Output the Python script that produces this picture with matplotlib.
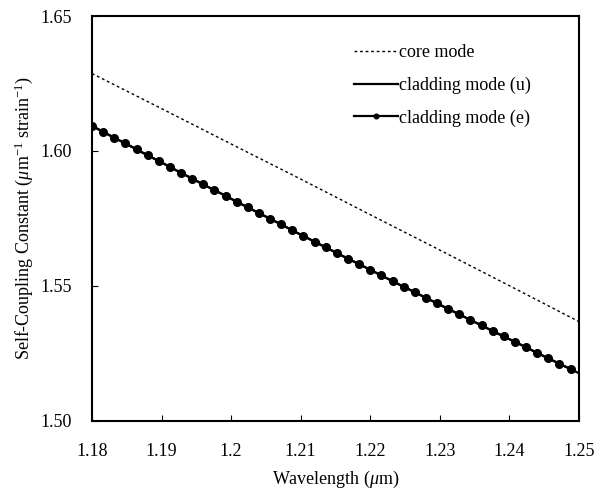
import matplotlib
matplotlib.use("Agg")
import matplotlib.pyplot as plt

plt.rcParams["font.family"] = ["Liberation Serif", "DejaVu Serif"]
plt.rcParams["mathtext.fontset"] = "custom"
plt.rcParams["mathtext.it"] = "Liberation Serif:italic"
plt.rcParams["mathtext.rm"] = "Liberation Serif"

# core mode, sampled every 0.01 um
core_wl = [1.18, 1.19, 1.20, 1.21, 1.22, 1.23, 1.24, 1.25]
core_k = [1.6287, 1.6157, 1.6026, 1.5896, 1.5764, 1.5633, 1.5501, 1.5368]

# cladding mode, sampled every 0.0016 um
clad_wl = [1.1800, 1.1816, 1.1832, 1.1848, 1.1864, 1.1880, 1.1896, 1.1912,
           1.1928, 1.1944, 1.1960, 1.1976, 1.1992, 1.2008, 1.2024, 1.2040,
           1.2056, 1.2072, 1.2088, 1.2104, 1.2120, 1.2136, 1.2152, 1.2168,
           1.2184, 1.2200, 1.2216, 1.2232, 1.2248, 1.2264, 1.2280, 1.2296,
           1.2312, 1.2328, 1.2344, 1.2360, 1.2376, 1.2392, 1.2408, 1.2424,
           1.2440, 1.2456, 1.2472, 1.2488]
clad_k = [1.6093, 1.6071, 1.6049, 1.6028, 1.6006, 1.5984, 1.5963, 1.5941,
          1.5919, 1.5898, 1.5876, 1.5855, 1.5834, 1.5812, 1.5791, 1.5770,
          1.5749, 1.5728, 1.5706, 1.5685, 1.5664, 1.5643, 1.5622, 1.5601,
          1.5581, 1.5560, 1.5539, 1.5518, 1.5497, 1.5477, 1.5456, 1.5436,
          1.5415, 1.5395, 1.5374, 1.5354, 1.5333, 1.5313, 1.5293, 1.5273,
          1.5252, 1.5232, 1.5212, 1.5192]
clad_u_wl = clad_wl + [1.25]
clad_u_k = clad_k + [1.5177]

x_ticks = [1.18, 1.19, 1.20, 1.21, 1.22, 1.23, 1.24, 1.25]
x_labels = ["1.18", "1.19", "1.2", "1.21", "1.22", "1.23", "1.24", "1.25"]
y_ticks = [1.50, 1.55, 1.60, 1.65]
y_labels = ["1.50", "1.55", "1.60", "1.65"]

fig = plt.figure(figsize=(5.97, 4.91), dpi=100)
ax = fig.add_axes([0.1541, 0.1426, 0.8157, 0.8248])

ax.plot(core_wl, core_k, color="black", lw=1.0, ls=(0, (2, 2)), label="core mode")
ax.plot(clad_u_wl, clad_u_k, color="black", lw=1.6, label="cladding mode (u)")
ax.plot(clad_wl, clad_k, color="black", lw=1.6, marker="o", markersize=5.5,
        label="cladding mode (e)")

ax.set_xlim(1.18, 1.25)
ax.set_ylim(1.50, 1.65)
ax.set_xticks(x_ticks)
ax.set_xticklabels(x_labels)
ax.set_yticks(y_ticks)
ax.set_yticklabels(y_labels)
ax.tick_params(direction="in", length=4, width=0.8, labelsize=13)
ax.tick_params(axis="x", pad=15.5)
ax.tick_params(axis="y", pad=14.5)
for s in ax.spines.values():
    s.set_linewidth(1.5)

ax.set_xlabel(r"Wavelength ($\mu$m)", fontsize=13, labelpad=7)
ax.set_ylabel(r"Self-Coupling Constant ($\mu$m$^{-1}$ strain$^{-1}$)", fontsize=13, labelpad=4)

leg = ax.legend(loc="upper left", bbox_to_anchor=(0.505, 0.97), frameon=False,
                fontsize=13, handlelength=2.4, handletextpad=0.1, labelspacing=0.85,
                markerscale=0.6)

fig.savefig("out.png", dpi=100)
